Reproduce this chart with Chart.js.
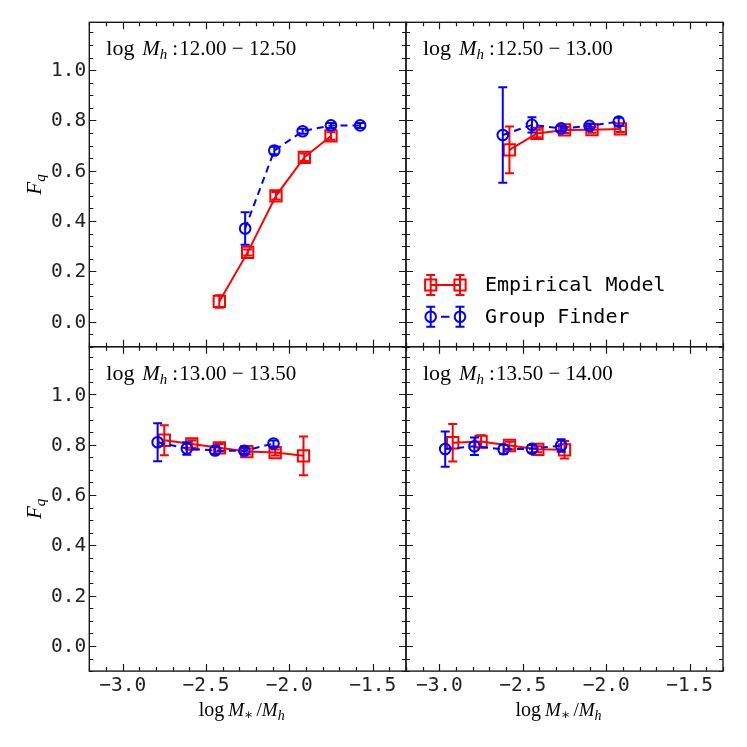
<!DOCTYPE html>
<html><head><meta charset="utf-8">
<script src="https://cdn.jsdelivr.net/npm/chart.js@4.4.0/dist/chart.umd.min.js"></script>
<style>
html,body{margin:0;padding:0;background:#fff;overflow:hidden}
#wrap{position:relative;width:747px;height:747px;background:#fff}
#wrap canvas{position:absolute;left:0;top:0}
</style></head>
<body><div id="wrap">
<canvas id="c0" width="747" height="747"></canvas>
<canvas id="c1" width="747" height="747"></canvas>
<canvas id="c2" width="747" height="747"></canvas>
<canvas id="c3" width="747" height="747"></canvas>
</div>
<script>
// ---------------- data ----------------
const xTickValues = [-3.0, -2.5, -2.0, -1.5];
const xTickLabels = ['\u22123.0', '\u22122.5', '\u22122.0', '\u22121.5'];
const yTickValues = [0.0, 0.2, 0.4, 0.6, 0.8, 1.0];
const yTickLabels = ['0.0', '0.2', '0.4', '0.6', '0.8', '1.0'];
const xRange = [-3.2, -1.3];
const yRange = [-0.1, 1.19];
const panelRanges = [['12.00','12.50'], ['12.50','13.00'], ['13.00','13.50'], ['13.50','14.00']];
const seriesNames = ['Empirical Model', 'Group Finder'];

// log Mh 12.00 - 12.50
const emp1X = [-2.42, -2.25, -2.08, -1.91, -1.75];
const emp1Y = [0.08, 0.275, 0.50, 0.653, 0.738];
const emp1E = [0.025, 0.012, 0.015, 0.015, 0.015];
const grp1X = [-2.265, -2.09, -1.92, -1.75, -1.575];
const grp1Y = [0.37, 0.68, 0.757, 0.78, 0.78];
const grp1E = [0.065, 0.015, 0.01, 0.01, 0.01];

// log Mh 12.50 - 13.00
const emp2X = [-2.58, -2.415, -2.25, -2.085, -1.915];
const emp2Y = [0.683, 0.748, 0.762, 0.763, 0.766];
const emp2E = [0.093, 0.015, 0.012, 0.012, 0.012];
const grp2X = [-2.62, -2.445, -2.27, -2.10, -1.925];
const grp2Y = [0.742, 0.782, 0.768, 0.778, 0.795];
const grp2E = [0.19, 0.03, 0.01, 0.01, 0.015];

// log Mh 13.00 - 13.50
const emp3X = [-2.75, -2.585, -2.42, -2.255, -2.085, -1.915];
const emp3Y = [0.818, 0.803, 0.788, 0.773, 0.769, 0.756];
const emp3E = [0.06, 0.015, 0.015, 0.012, 0.012, 0.077];
const grp3X = [-2.79, -2.615, -2.445, -2.27, -2.095];
const grp3Y = [0.81, 0.785, 0.777, 0.776, 0.805];
const grp3E = [0.076, 0.025, 0.015, 0.012, 0.012];

// log Mh 13.50 - 14.00
const emp4X = [-2.92, -2.75, -2.58, -2.41, -2.25];
const emp4Y = [0.808, 0.813, 0.797, 0.782, 0.78];
const emp4E = [0.075, 0.025, 0.015, 0.012, 0.035];
const grp4X = [-2.965, -2.79, -2.615, -2.445, -2.27];
const grp4Y = [0.783, 0.794, 0.782, 0.784, 0.797];
const grp4E = [0.07, 0.035, 0.018, 0.015, 0.025];

// ---------------- layout ----------------
const XL = 89.3, XM = 406, XR = 723, YT = 22.3, YM = 346.7, YB = 671.1;
const panels = [
  {L:XL, T:YT, R:XM, B:YM, xl:false, yl:true,  legend:false, emp:[emp1X,emp1Y,emp1E], grp:[grp1X,grp1Y,grp1E]},
  {L:XM, T:YT, R:XR, B:YM, xl:false, yl:false, legend:true,  emp:[emp2X,emp2Y,emp2E], grp:[grp2X,grp2Y,grp2E]},
  {L:XL, T:YM, R:XM, B:YB, xl:true,  yl:true,  legend:false, emp:[emp3X,emp3Y,emp3E], grp:[grp3X,grp3Y,grp3E]},
  {L:XM, T:YM, R:XR, B:YB, xl:true,  yl:false, legend:false, emp:[emp4X,emp4Y,emp4E], grp:[grp4X,grp4Y,grp4E]}
];

const RED = '#ff0000', BLUE = '#0000ff', INK = '#1a1a1a';
const SERIF = '"Liberation Serif", "DejaVu Serif", serif';
const MONO = '"DejaVu Sans Mono", monospace';

function drawParts(ctx, parts, x, y, align) {
  let w = 0;
  parts.forEach(p => { ctx.font = p.f; p.w = ctx.measureText(p.t).width; w += p.w + (p.gap || 0); });
  let cx = align === 'center' ? x - w / 2 : x;
  parts.forEach(p => {
    ctx.font = p.f;
    ctx.fillText(p.t, cx, y + (p.dy || 0));
    cx += p.w + (p.gap || 0);
  });
}

const errorBarPlugin = {
  id: 'errbars',
  afterDatasetDraw(chart, args) {
    const ds = chart.data.datasets[args.index];
    if (!ds.errors) return;
    const ctx = chart.ctx, xs = chart.scales.x, ys = chart.scales.y, a = chart.chartArea;
    ctx.save();
    ctx.beginPath(); ctx.rect(a.left, a.top, a.right - a.left, a.bottom - a.top); ctx.clip();
    ctx.strokeStyle = ds.borderColor; ctx.lineWidth = 2; ctx.setLineDash([]);
    ds.data.forEach((p, i) => {
      const e = ds.errors[i];
      const px = xs.getPixelForValue(p.x);
      const y1 = ys.getPixelForValue(p.y + e), y2 = ys.getPixelForValue(p.y - e);
      ctx.beginPath();
      ctx.moveTo(px, y1); ctx.lineTo(px, y2);
      ctx.moveTo(px - 4.5, y1); ctx.lineTo(px + 4.5, y1);
      ctx.moveTo(px - 4.5, y2); ctx.lineTo(px + 4.5, y2);
      ctx.stroke();
    });
    ctx.restore();
  }
};

function makeDeco(P, idx) {
  return {
    id: 'deco',
    afterDraw(chart) {
      const ctx = chart.ctx, xs = chart.scales.x, ys = chart.scales.y, a = chart.chartArea;
      ctx.save();
      ctx.strokeStyle = INK; ctx.lineWidth = 1.2; ctx.setLineDash([]);
      // ticks (inward, all four sides)
      ctx.beginPath();
      for (let i = -32; i <= -13; i++) {
        const v = i / 10;
        const major = xTickValues.some(t => Math.abs(t - v) < 1e-6);
        const len = major ? 7 : 4;
        const px = Math.round(xs.getPixelForValue(v)) + 0.5;
        ctx.moveTo(px, a.bottom); ctx.lineTo(px, a.bottom - len);
        ctx.moveTo(px, a.top); ctx.lineTo(px, a.top + len);
      }
      for (let i = -2; i <= 23; i++) {
        const v = i * 0.05;
        const major = yTickValues.some(t => Math.abs(t - v) < 1e-6);
        const len = major ? 7 : 4;
        const py = Math.round(ys.getPixelForValue(v)) + 0.5;
        ctx.moveTo(a.left, py); ctx.lineTo(a.left + len, py);
        ctx.moveTo(a.right, py); ctx.lineTo(a.right - len, py);
      }
      ctx.stroke();
      // frame
      ctx.lineWidth = 1.4;
      ctx.strokeRect(a.left, a.top, a.right - a.left, a.bottom - a.top);

      // tick labels
      ctx.fillStyle = '#222';
      ctx.font = '19.5px ' + MONO;
      ctx.textBaseline = 'middle';
      if (P.xl) {
        ctx.textAlign = 'center';
        xTickValues.forEach((v, i) => ctx.fillText(xTickLabels[i], xs.getPixelForValue(v), a.bottom + 14.5));
      }
      if (P.yl) {
        ctx.textAlign = 'right';
        yTickValues.forEach((v, i) => ctx.fillText(yTickLabels[i], a.left - 3, ys.getPixelForValue(v) + 1));
      }

      // panel label
      ctx.fillStyle = '#000';
      ctx.textBaseline = 'alphabetic'; ctx.textAlign = 'left';
      const x0 = a.left + 17, y0 = a.top + 33;
      ctx.font = '22px ' + SERIF; ctx.fillText('log', x0, y0);
      ctx.font = 'italic 21px ' + SERIF; ctx.fillText('M', x0 + 36, y0);
      const mw = ctx.measureText('M').width;
      ctx.font = 'italic 15px ' + SERIF; ctx.fillText('h', x0 + 36 + mw, y0 + 4);
      ctx.font = '21px ' + SERIF; ctx.fillText(':', x0 + 66, y0);
      ctx.fillText(panelRanges[idx][0] + ' \u2212 ' + panelRanges[idx][1], x0 + 73, y0);

      // x title
      if (P.xl) {
        const cx = (a.left + a.right) / 2 - 6;
        drawParts(ctx, [
          {t:'log', f:'20px ' + SERIF, gap:4},
          {t:'M', f:'italic 19px ' + SERIF},
          {t:'\u2217', f:'14px ' + SERIF, dy:3, gap:3},
          {t:'/', f:'19px ' + SERIF},
          {t:'M', f:'italic 19px ' + SERIF},
          {t:'h', f:'italic 14px ' + SERIF, dy:4}
        ], cx, 716, 'center');
      }
      // y title
      if (P.yl) {
        ctx.save();
        ctx.translate(41, (a.top + a.bottom) / 2);
        ctx.rotate(-Math.PI / 2);
        drawParts(ctx, [
          {t:'F', f:'italic 21px ' + SERIF},
          {t:'q', f:'italic 15px ' + SERIF, dy:4}
        ], 0, 0, 'center');
        ctx.restore();
      }
      // legend
      if (P.legend) {
        const rows = [{y:285, c:RED, sq:true, dash:false, t:seriesNames[0]},
                      {y:316.7, c:BLUE, sq:false, dash:true, t:seriesNames[1]}];
        rows.forEach(r => {
          const xa = 430.7, xb = 460;
          ctx.strokeStyle = r.c; ctx.lineWidth = 2;
          ctx.beginPath();
          if (r.dash) { ctx.moveTo(441, r.y); ctx.lineTo(449.5, r.y); }
          else { ctx.moveTo(xa, r.y); ctx.lineTo(xb, r.y); }
          [xa, xb].forEach(x => {
            ctx.moveTo(x, r.y - 10); ctx.lineTo(x, r.y + 10);
            ctx.moveTo(x - 4.5, r.y - 10); ctx.lineTo(x + 4.5, r.y - 10);
            ctx.moveTo(x - 4.5, r.y + 10); ctx.lineTo(x + 4.5, r.y + 10);
          });
          ctx.stroke();
          [xa, xb].forEach(x => {
            ctx.beginPath();
            if (r.sq) ctx.rect(x - 5.6, r.y - 5.6, 11.2, 11.2);
            else ctx.arc(x, r.y, 5.3, 0, Math.PI * 2);
            ctx.stroke();
          });
          ctx.fillStyle = '#000';
          ctx.font = '20px ' + MONO;
          ctx.textBaseline = 'middle'; ctx.textAlign = 'left';
          ctx.fillText(r.t, 485, r.y + 1);
        });
      }
      ctx.restore();
    }
  };
}

panels.forEach((P, idx) => {
  const toPts = (X, Y) => X.map((x, i) => ({x: x, y: Y[i]}));
  new Chart(document.getElementById('c' + idx), {
    type: 'scatter',
    data: {
      datasets: [
        {label: seriesNames[0], data: toPts(P.emp[0], P.emp[1]), errors: P.emp[2],
         showLine: true, borderColor: RED, backgroundColor: 'rgba(0,0,0,0)', borderWidth: 2,
         pointStyle: 'rect', pointRadius: 8, pointBorderWidth: 2, pointBorderColor: RED,
         pointBackgroundColor: 'rgba(0,0,0,0)', pointHoverRadius: 8, order: 2},
        {label: seriesNames[1], data: toPts(P.grp[0], P.grp[1]), errors: P.grp[2],
         showLine: true, borderColor: BLUE, backgroundColor: 'rgba(0,0,0,0)', borderWidth: 2,
         borderDash: [7, 5],
         pointStyle: 'circle', pointRadius: 5.3, pointBorderWidth: 2, pointBorderColor: BLUE,
         pointBackgroundColor: 'rgba(0,0,0,0)', pointHoverRadius: 5.3, order: 1}
      ]
    },
    options: {
      responsive: false, animation: false, events: [],
      layout: {padding: {left: P.L, top: P.T, right: 747 - P.R, bottom: 747 - P.B}},
      plugins: {legend: {display: false}, tooltip: {enabled: false}},
      scales: {
        x: {type: 'linear', position: 'bottom', min: xRange[0], max: xRange[1],
            afterFit: s => { s.height = 0; },
            afterBuildTicks: s => { s.ticks = xTickValues.map(v => ({value: v})); },
            grid: {display: false, drawTicks: false}, border: {display: false},
            ticks: {display: false}},
        y: {type: 'linear', position: 'left', min: yRange[0], max: yRange[1],
            afterFit: s => { s.width = 0; },
            afterBuildTicks: s => { s.ticks = yTickValues.map(v => ({value: v})); },
            grid: {display: false, drawTicks: false}, border: {display: false},
            ticks: {display: false}}
      }
    },
    plugins: [errorBarPlugin, makeDeco(P, idx)]
  });
});
</script>
</body></html>
